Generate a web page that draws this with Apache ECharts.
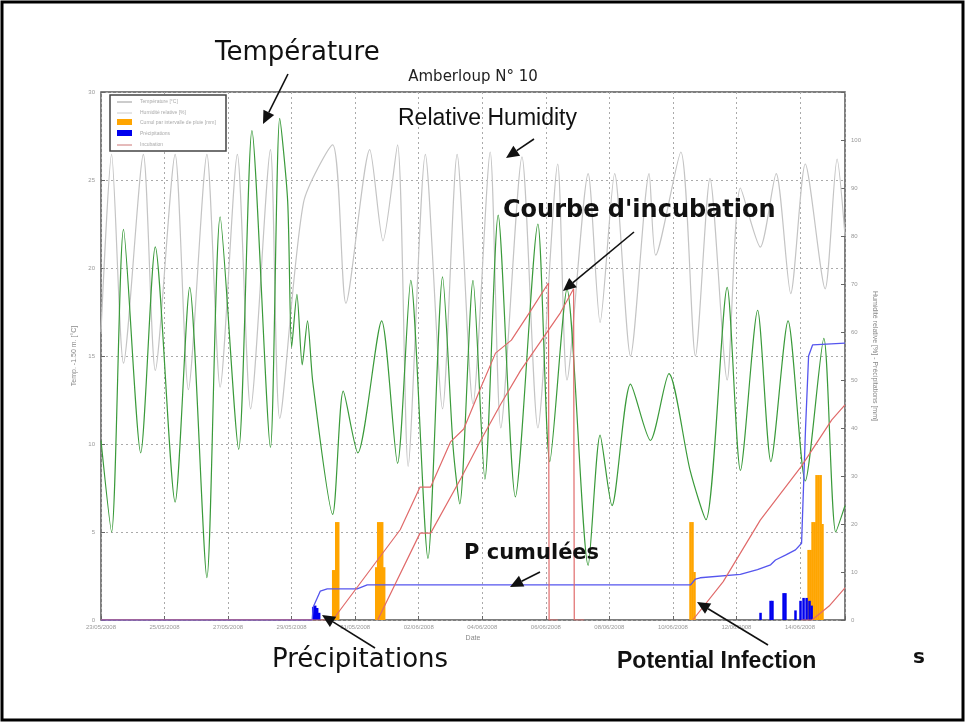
<!DOCTYPE html>
<html>
<head>
<meta charset="utf-8">
<script src="https://cdn.jsdelivr.net/npm/echarts@6/dist/echarts.min.js"></script>
<style>
  html, body { margin: 0; padding: 0; background: #fff; }
  #chart { width: 966px; height: 723px; }
</style>
</head>
<body>
<div id="chart"></div>
<script>
// x tick labels, one every 48 h
var xTickLabels = ['23/05/2008', '25/05/2008', '27/05/2008', '29/05/2008', '31/05/2008', '02/06/2008',
  '04/06/2008', '06/06/2008', '08/06/2008', '10/06/2008', '12/06/2008', '14/06/2008'];

// temperature [°C], hours since start
var tempHours = [0, 8, 17, 30, 41, 56, 67, 80, 90, 104, 114, 128, 135, 141, 144, 148, 152, 156, 160,
  175, 183, 194, 212, 224, 234, 247, 258, 266, 271, 281, 290, 300, 313, 330, 339, 352, 368, 377, 386,
  400, 415, 429, 445, 457, 473, 483, 496, 506, 519, 532, 546, 555, 562];
var tempValues = [10.2, 5.0, 22.2, 9.5, 21.2, 6.7, 18.9, 2.4, 22.9, 9.7, 27.8, 9.8, 28.5, 23.8, 15.5, 18.5, 14.5, 17.0, 13.5,
  6.0, 13.0, 9.5, 17.0, 8.9, 19.3, 3.5, 19.5, 9.8, 6.6, 19.3, 8.0, 23.0, 7.0, 22.5, 9.0, 18.8, 3.1, 10.5, 6.5,
  13.4, 10.2, 14.0, 8.5, 5.7, 18.9, 8.5, 17.6, 9.0, 17.0, 7.9, 16.0, 5.0, 6.5];

// relative humidity [%]
var humHours = [0, 8, 17, 32, 41, 56, 66, 80, 90, 103, 113, 128, 135, 153, 175, 185, 203, 213, 224, 232,
  245, 258, 269, 281, 294, 302, 318, 330, 345, 352, 368, 377, 388, 400, 414, 419, 438, 449, 460, 473,
  483, 498, 510, 521, 532, 547, 556, 562];
var humValues = [60, 97, 53.5, 97, 52, 97, 48, 97, 48.5, 97, 44, 98, 42, 87, 99, 66, 98, 79, 99, 32,
  97, 44, 97, 45, 97.5, 40, 96.5, 40, 95, 50, 93, 62, 93, 55, 93, 76, 97.5, 55, 92, 50,
  90, 77.7, 93, 68, 95, 69, 96, 80];

// incubation curves
var incub1Hours = [0, 175, 226, 241, 249, 264, 274, 287, 298, 310, 325, 338, 338.5, 345];
var incub1Values = [0, 0, 18.8, 27.7, 27.7, 37.1, 39.8, 48.5, 55.6, 58.3, 64.6, 70.2, 0, 0];
var incub2Hours = [209, 241, 249, 272, 287, 302, 317, 332, 347, 357, 357.5, 365];
var incub2Values = [0, 18.1, 18.1, 29.6, 37.5, 45, 52, 58, 64, 69, 0, 0];
var incub3Hours = [447, 470, 498, 529, 552, 562];
var incub3Values = [0, 8, 20.8, 32, 41.7, 44.8];
var incub4Hours = [529, 537, 550, 562];
var incub4Values = [0, 0, 2.9, 6.7];

// cumulated precipitation [mm]
var pcumHours = [0, 159.5, 160.3, 165.6, 170.9, 193.5, 201.1, 445.3, 449, 452.6, 482.9, 495.9, 505.8,
  509.5, 517, 524.6, 529.2, 532.2, 534.5, 537.5, 562];
var pcumValues = [0, 0, 2.7, 6.0, 6.5, 6.5, 7.3, 7.3, 8.5, 8.8, 9.5, 10.5, 11.5,
  12.5, 13.5, 14.6, 16, 40, 55, 57.3, 57.7];

// orange bars (cumul)
var cumulHours = [175.4, 176.5, 177.7, 179.2, 207.9, 209.4, 210.9, 212.4, 213.9, 445.3, 446.8, 448.3,
  534.5, 536, 537.5, 539, 540.5, 542, 543.6, 545];
var cumulValues = [10.4, 10.4, 20.4, 20.4, 11, 20.4, 20.4, 20.4, 11, 20.4, 20.4, 10,
  14.6, 14.6, 20.4, 20.4, 30.2, 30.2, 30.2, 20];

// blue bars (precipitation)
var precHours = [160.3, 161.8, 163.3, 164.8, 498.2, 505.8, 507.2, 515.6, 517, 524.6, 528.4, 530.7, 533, 535.2, 536.8];
var precValues = [2.7, 3, 2.5, 1.5, 1.5, 4, 4, 5.6, 5.6, 2, 4, 4.6, 4.6, 4, 3];

function pairs(hs, vs) {
  return hs.map(function (h, i) { return [h, vs[i]]; });
}

function arrow(x1, y1, x2, y2) {
  var a = Math.atan2(y2 - y1, x2 - x1);
  var L = 13, W = 6;
  var bx = x2 - L * Math.cos(a), by = y2 - L * Math.sin(a);
  return [
    { type: 'line', shape: { x1: x1, y1: y1, x2: bx, y2: by }, style: { stroke: '#111', lineWidth: 1.6 }, z: 100 },
    { type: 'polygon', shape: { points: [[x2, y2],
      [bx + W * Math.sin(a), by - W * Math.cos(a)],
      [bx - W * Math.sin(a), by + W * Math.cos(a)]] }, style: { fill: '#111' }, z: 100 }
  ];
}

function label(x, y, txt, font, size, weight) {
  return { type: 'text', left: x, top: y, z: 100,
    style: { text: txt, fontFamily: font, fontSize: size, fontWeight: weight || 'normal', fill: '#111' } };
}

var lg = [
  { type: 'rect', shape: { x: 110, y: 95, width: 116, height: 56 }, style: { fill: '#fff', stroke: '#444', lineWidth: 1.5 }, z: 50 },
  { type: 'line', shape: { x1: 117, y1: 102, x2: 132, y2: 102 }, style: { stroke: '#999', lineWidth: 1 }, z: 51 },
  { type: 'line', shape: { x1: 117, y1: 113, x2: 132, y2: 113 }, style: { stroke: '#ccc', lineWidth: 1 }, z: 51 },
  { type: 'rect', shape: { x: 117, y: 119, width: 15, height: 6 }, style: { fill: '#ffa500' }, z: 51 },
  { type: 'rect', shape: { x: 117, y: 130, width: 15, height: 6 }, style: { fill: '#0000ee' }, z: 51 },
  { type: 'line', shape: { x1: 117, y1: 145, x2: 132, y2: 145 }, style: { stroke: '#c77', lineWidth: 1 }, z: 51 },
  { type: 'text', left: 140, top: 99, z: 51, style: { text: 'Température [°C]', fontSize: 5, fill: '#aaa' } },
  { type: 'text', left: 140, top: 110, z: 51, style: { text: 'Humidité relative [%]', fontSize: 5, fill: '#aaa' } },
  { type: 'text', left: 140, top: 120, z: 51, style: { text: 'Cumul par intervalle de pluie [mm]', fontSize: 5, fill: '#aaa' } },
  { type: 'text', left: 140, top: 131, z: 51, style: { text: 'Précipitations', fontSize: 5, fill: '#aaa' } },
  { type: 'text', left: 140, top: 142, z: 51, style: { text: 'Incubation', fontSize: 5, fill: '#aaa' } }
];

var graphics = [
  { type: 'rect', shape: { x: 2, y: 2, width: 961, height: 718 }, style: { fill: 'none', stroke: '#000', lineWidth: 3 }, z: 100 },
  label(215, 40, 'Température', 'DejaVu Sans', 26),
  label(398, 107, 'Relative Humidity', 'Liberation Sans', 23),
  label(503, 199, "Courbe d'incubation", 'DejaVu Sans', 24, 'bold'),
  label(464, 543, 'P cumulées', 'DejaVu Sans', 21, 'bold'),
  label(272, 647, 'Précipitations', 'DejaVu Sans', 26),
  label(617, 650, 'Potential Infection', 'Liberation Sans', 23, 'bold'),
  label(913, 648, 's', 'DejaVu Sans', 20, 'bold')
].concat(lg)
  .concat(arrow(288, 74, 263, 124))
  .concat(arrow(534, 139, 506, 158))
  .concat(arrow(634, 232, 563, 291))
  .concat(arrow(540, 572, 510, 587))
  .concat(arrow(375, 648, 322, 615))
  .concat(arrow(768, 645, 697, 602));

var option = {
  animation: false,
  backgroundColor: '#fff',
  title: {
    text: 'Amberloup N° 10',
    left: 468, top: 65, textAlign: 'center',
    textStyle: { fontFamily: 'DejaVu Sans', fontSize: 15, fontWeight: 'normal', color: '#222' }
  },
  grid: {
    left: 101, right: 121, top: 92, bottom: 103,
    show: true, borderColor: '#555', borderWidth: 1.5, backgroundColor: 'transparent'
  },
  xAxis: {
    type: 'value', min: 0, max: 562, interval: 48,
    name: 'Date', nameLocation: 'middle', nameGap: 14,
    nameTextStyle: { fontSize: 7, color: '#888' },
    axisLine: { show: false },
    axisTick: { inside: true, length: 4, lineStyle: { color: '#666' } },
    axisLabel: { fontSize: 6, color: '#999', margin: 4,
      formatter: function (v) { return xTickLabels[v / 48] || ''; } },
    splitLine: { show: true, lineStyle: { color: '#aaa', type: [2, 3] } }
  },
  yAxis: [
    {
      type: 'value', min: 0, max: 30, interval: 5, position: 'left',
      name: 'Temp. -1.50 m. [°C]', nameLocation: 'middle', nameGap: 20,
      nameTextStyle: { fontSize: 7, color: '#888' },
      axisLine: { show: false },
      axisTick: { show: true, inside: true, length: 4, lineStyle: { color: '#666' } },
      axisLabel: { fontSize: 6, color: '#999', margin: 6 },
      splitLine: { show: true, lineStyle: { color: '#aaa', type: [2, 3] } }
    },
    {
      type: 'value', min: 0, max: 110, interval: 10, position: 'right',
      name: 'Humidité relative [%] - Précipitations [mm]', nameLocation: 'middle', nameGap: 18,
      nameRotate: -90,
      nameTextStyle: { fontSize: 7, color: '#888' },
      axisLine: { show: false },
      axisTick: { show: true, inside: true, length: 4, lineStyle: { color: '#666' } },
      axisLabel: { fontSize: 6, color: '#999', margin: 6,
        formatter: function (v) { return v > 100 ? '' : v; } },
      splitLine: { show: false }
    }
  ],
  series: [
    { name: 'Humidité relative', type: 'line', yAxisIndex: 1, data: pairs(humHours, humValues),
      smooth: 0.25, showSymbol: false, lineStyle: { color: '#c4c4c4', width: 1.2 }, z: 2 },
    { name: 'Température', type: 'line', yAxisIndex: 0, data: pairs(tempHours, tempValues),
      smooth: 0.25, showSymbol: false, lineStyle: { color: '#3a9a3a', width: 1.2 }, z: 3 },
    { name: 'Cumul', type: 'bar', yAxisIndex: 1, data: pairs(cumulHours, cumulValues),
      barWidth: 2.5, barGap: '-100%', itemStyle: { color: '#ffa500' }, z: 4 },
    { name: 'Précipitations', type: 'bar', yAxisIndex: 1, data: pairs(precHours, precValues),
      barWidth: 2.5, barGap: '-100%', itemStyle: { color: '#0000ee' }, z: 5 },
    { name: 'P cumulées', type: 'line', yAxisIndex: 1, data: pairs(pcumHours, pcumValues),
      showSymbol: false, lineStyle: { color: '#5555ee', width: 1.3 }, z: 6 },
    { name: 'Incubation', type: 'line', yAxisIndex: 1, data: pairs(incub1Hours, incub1Values),
      showSymbol: false, lineStyle: { color: '#e06a6a', width: 1.2 }, z: 7 },
    { name: 'Incubation', type: 'line', yAxisIndex: 1, data: pairs(incub2Hours, incub2Values),
      showSymbol: false, lineStyle: { color: '#e06a6a', width: 1.2 }, z: 7 },
    { name: 'Incubation', type: 'line', yAxisIndex: 1, data: pairs(incub3Hours, incub3Values),
      showSymbol: false, lineStyle: { color: '#e06a6a', width: 1.2 }, z: 7 },
    { name: 'Incubation', type: 'line', yAxisIndex: 1, data: pairs(incub4Hours, incub4Values),
      showSymbol: false, lineStyle: { color: '#e06a6a', width: 1.2 }, z: 7 }
  ],
  graphic: graphics
};

var myChart = echarts.init(document.getElementById('chart'));
myChart.setOption(option, true);
</script>
</body>
</html>
